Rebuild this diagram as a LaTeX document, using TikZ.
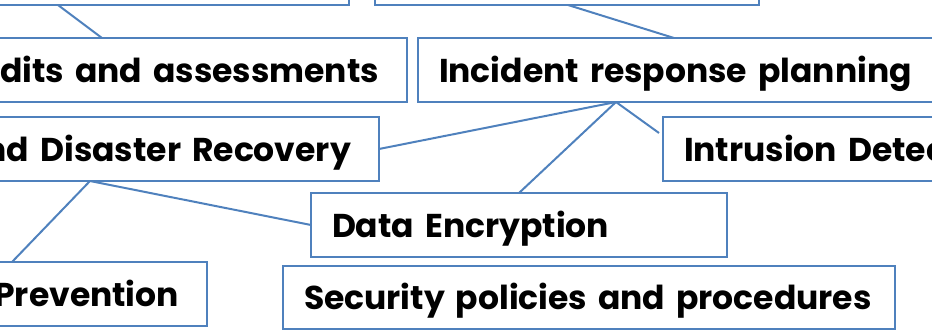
\documentclass[tikz,border=0pt]{standalone}
\usepackage{fontspec}
\setmainfont{Poppins}
\usetikzlibrary{positioning}
\definecolor{mapblue}{HTML}{4F81BD}
\tikzset{
  topic/.style={draw=mapblue,line width=2pt,rectangle,outer sep=0pt,
                minimum height=64pt,inner ysep=0pt,
                text height=30pt,text depth=6pt,
                font=\fontsize{33}{38}\selectfont\bfseries},
  leftbox/.style={topic,anchor=north west,align=left,inner xsep=21pt},
  rightbox/.style={topic,anchor=north east,align=right,inner xsep=28pt},
  link/.style={draw=mapblue,line width=2pt}
}

\begin{document}
\begin{tikzpicture}[x=1pt,y=-1pt]
  \useasboundingbox (0,0) rectangle (932,330);
  \clip (0,0) rectangle (932,330);
  % boxes cut by the frame
  \node[topic,anchor=south east,minimum width=600pt] (policyA) at (349,5) {};
  \node[topic,anchor=south west,minimum width=384pt] (policyB) at (375,5) {};
  \node[rightbox,text width=700pt] (audits) at (407,38)
    {Security audits and assessments};
  \node[leftbox,text width=700pt] (incident) at (418,38)
    {Incident response planning};
  \node[rightbox,text width=700pt] (recovery) at (379,117)
    {Backup and Disaster Recovery};
  \node[leftbox,text width=500pt] (intrusion) at (663,117)
    {Intrusion Detection};
  \node[leftbox,text width=374pt] (encrypt) at (311,193)
    {Data Encryption};
  \node[rightbox,text width=500pt] (prevent) at (207,262)
    {Data Loss Prevention};
  \node[leftbox,text width=570pt,minimum height=63pt] (policies) at (283,266)
    {Security policies and procedures};
  % connectors
  \draw[link] ([shift={(-291,0)}]policyA.south east)--([shift={(-305,0)}]audits.north east);
  \draw[link] ([shift={(193,0)}]policyB.south west)--([shift={(256,0)}]incident.north west);
  \coordinate (hubI) at ([shift={(198,0)}]incident.south west);
  \coordinate (hubR) at ([shift={(-289,0)}]recovery.south east);
  \draw[link] (hubI)--(recovery.east);
  \draw[link] (hubI)--([shift={(-4,16)}]intrusion.north west);
  \draw[link] (hubI)--([shift={(208,0)}]encrypt.north west);
  \draw[link] (hubR)--(encrypt.west);
  \draw[link] (hubR)--([shift={(-195,0)}]prevent.north east);
\end{tikzpicture}
\end{document}
